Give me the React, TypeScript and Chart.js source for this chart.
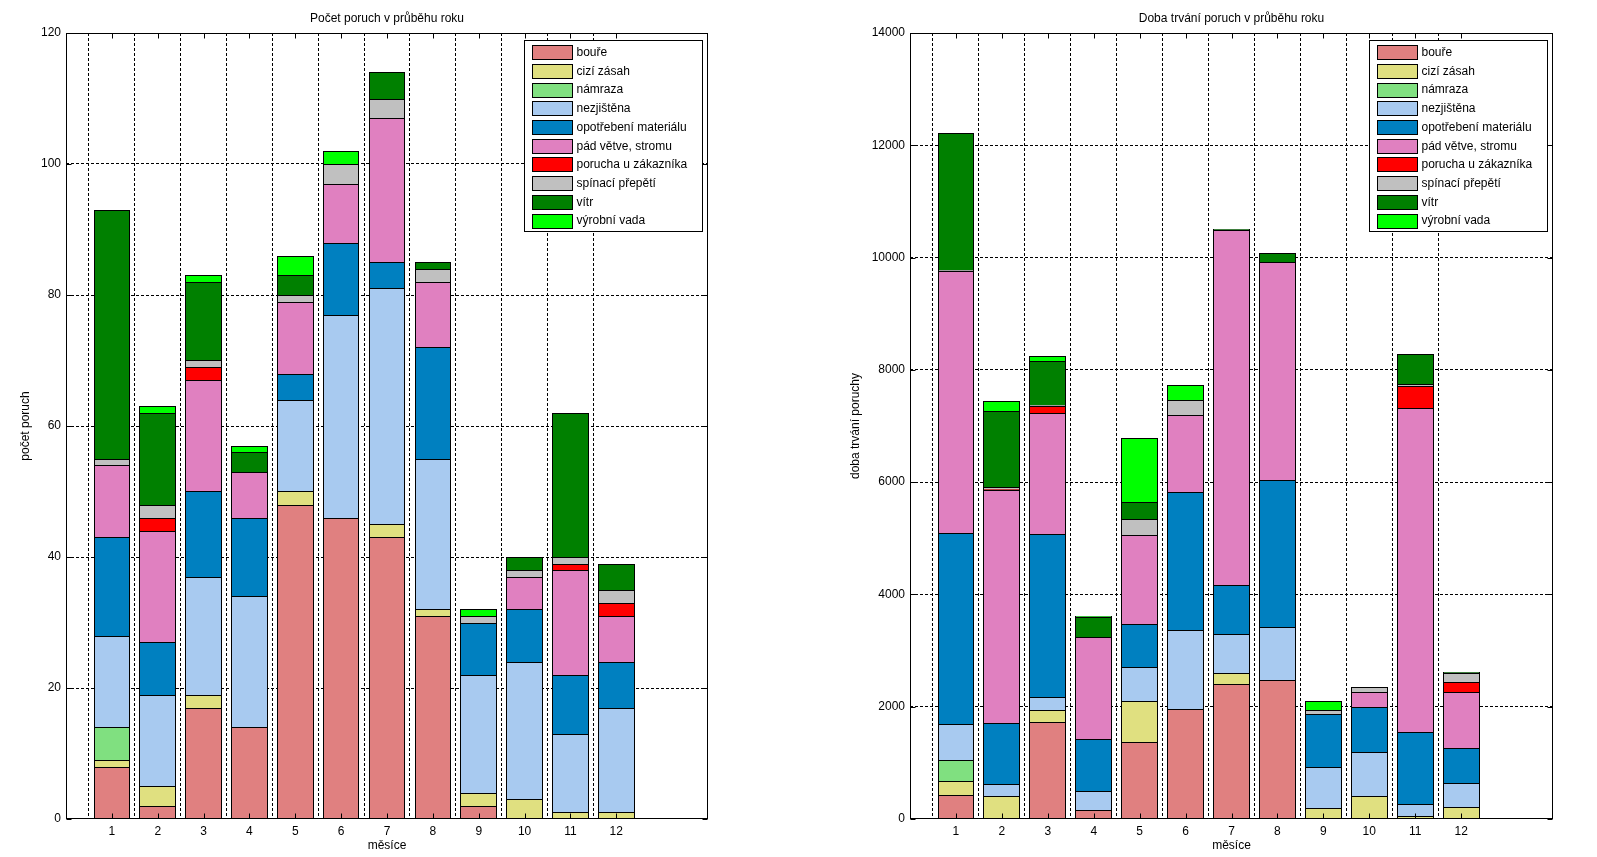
import React, { useEffect, useRef } from 'react';
import { Chart, registerables } from 'chart.js';

Chart.register(...registerables);

const FONT = "'Liberation Sans', Arial, sans-serif";

// ---------- data ----------
const MONTHS = ['1', '2', '3', '4', '5', '6', '7', '8', '9', '10', '11', '12'];
const X_LABELS = ['', ...MONTHS, '', ''];

const CAUSES = [
  'bouře',
  'cizí zásah',
  'námraza',
  'nezjištěna',
  'opotřebení materiálu',
  'pád větve, stromu',
  'porucha u zákazníka',
  'spínací přepětí',
  'vítr',
  'výrobní vada',
];
const CAUSE_COLORS = [
  '#E08080',
  '#E0E080',
  '#80E080',
  '#A8CAF0',
  '#0080C0',
  '#E080C0',
  '#FF0000',
  '#C0C0C0',
  '#008000',
  '#00FF00',
];

// Počet poruch (count per month)
const countBoure = [8, 2, 17, 14, 48, 46, 43, 31, 2, 0, 0, 0];
const countCizi = [1, 3, 2, 0, 2, 0, 2, 1, 2, 3, 1, 1];
const countNamraza = [5, 0, 0, 0, 0, 0, 0, 0, 0, 0, 0, 0];
const countNezjistena = [14, 14, 18, 20, 14, 31, 36, 23, 18, 21, 12, 16];
const countOpotrebeni = [15, 8, 13, 12, 4, 11, 4, 17, 8, 8, 9, 7];
const countPad = [11, 17, 17, 7, 11, 9, 22, 10, 0, 5, 16, 7];
const countPorucha = [0, 2, 2, 0, 0, 0, 0, 0, 0, 0, 1, 2];
const countSpinaci = [1, 2, 1, 0, 1, 3, 3, 2, 1, 1, 1, 2];
const countVitr = [38, 14, 12, 3, 3, 0, 4, 1, 0, 2, 22, 4];
const countVyrobni = [0, 1, 1, 1, 3, 2, 0, 0, 1, 0, 0, 0];

// Doba trvání poruch (duration per month)
const durBoure = [422, 20, 1736, 155, 1367, 1956, 2396, 2473, 15, 0, 0, 0];
const durCizi = [250, 384, 202, 0, 732, 0, 202, 0, 175, 404, 48, 208];
const durNamraza = [374, 0, 0, 0, 0, 0, 0, 0, 0, 0, 0, 0];
const durNezjistena = [642, 214, 232, 338, 606, 1409, 696, 945, 731, 785, 214, 428];
const durOpotrebeni = [3407, 1088, 2907, 928, 767, 2467, 873, 2622, 946, 803, 1284, 624];
const durPad = [4673, 4150, 2150, 1813, 1587, 1365, 6321, 3889, 0, 267, 5776, 999];
const durPorucha = [0, 24, 136, 0, 0, 0, 0, 0, 0, 0, 399, 178];
const durSpinaci = [10, 40, 15, 0, 286, 274, 10, 0, 71, 89, 29, 167];
const durVitr = [2446, 1348, 783, 357, 303, 0, 15, 161, 0, 0, 536, 10];
const durVyrobni = [0, 179, 89, 20, 1141, 262, 0, 0, 161, 0, 0, 0];

const COUNT_SERIES = [
  countBoure, countCizi, countNamraza, countNezjistena, countOpotrebeni,
  countPad, countPorucha, countSpinaci, countVitr, countVyrobni,
];
const DURATION_SERIES = [
  durBoure, durCizi, durNamraza, durNezjistena, durOpotrebeni,
  durPad, durPorucha, durSpinaci, durVitr, durVyrobni,
];

const COUNT_Y_TICKS = [0, 20, 40, 60, 80, 100, 120];
const DURATION_Y_TICKS = [0, 2000, 4000, 6000, 8000, 10000, 12000, 14000];

// ---------- plugins ----------
// snap bar edges to whole pixels (crisp MATLAB-like edges)
const snapPlugin = {
  id: 'snapBars',
  afterDatasetsUpdate(chart: any) {
    chart.data.datasets.forEach((_: any, di: number) => {
      const meta = chart.getDatasetMeta(di);
      meta.data.forEach((el: any) => {
        if (!isFinite(el.x) || !isFinite(el.y) || !isFinite(el.base)) return;
        const l = Math.round(el.x - el.width / 2);
        const r = Math.round(el.x + el.width / 2);
        el.x = (l + r) / 2;
        el.width = r - l;
        el.y = Math.round(el.y);
        el.base = Math.round(el.base);
      });
    });
  },
};

const framePlugin = {
  id: 'matlabFrame',
  afterDatasetsDraw(chart: any) {
    const { ctx, chartArea: a } = chart;
    const L = Math.round(a.left) + 0.5;
    const R = Math.round(a.right) - 0.5;
    const T = Math.round(a.top) + 0.5;
    const B = Math.round(a.bottom) - 0.5;
    ctx.save();
    ctx.setLineDash([]);
    ctx.strokeStyle = '#000';
    ctx.lineWidth = 1;
    ctx.strokeRect(L, T, R - L, B - T);
    const tl = 5;
    ctx.beginPath();
    const ys = chart.scales.y;
    ys.ticks.forEach((t: any) => {
      const y = Math.round(ys.getPixelForValue(t.value)) + 0.5;
      ctx.moveTo(L, y);
      ctx.lineTo(L + tl, y);
      ctx.moveTo(R, y);
      ctx.lineTo(R - tl, y);
    });
    const xs = chart.scales.x;
    for (let i = 1; i <= MONTHS.length; i++) {
      const x = Math.round(xs.getPixelForTick(i)) + 0.5;
      ctx.moveTo(x, B);
      ctx.lineTo(x, B - tl);
      ctx.moveTo(x, T);
      ctx.lineTo(x, T + tl);
    }
    ctx.stroke();
    ctx.restore();
  },
};

const boxLegendPlugin = {
  id: 'boxLegend',
  afterDraw(chart: any) {
    const { ctx, chartArea: a } = chart;
    const w = 178;
    const h = 191;
    const left = Math.round(a.right - 6 - w) + 0.5;
    const top = Math.round(a.top + 7) + 0.5;
    ctx.save();
    ctx.setLineDash([]);
    ctx.fillStyle = '#fff';
    ctx.fillRect(left, top, w, h);
    ctx.strokeStyle = '#000';
    ctx.lineWidth = 1;
    ctx.strokeRect(left, top, w, h);
    ctx.font = `12px ${FONT}`;
    ctx.textBaseline = 'middle';
    ctx.textAlign = 'left';
    chart.data.datasets.forEach((ds: any, i: number) => {
      const cy = top + 11.7 + i * 18.7;
      const sy = Math.round(cy - 7) + 0.5;
      ctx.fillStyle = ds.backgroundColor;
      ctx.fillRect(left + 8, sy, 40, 14);
      ctx.strokeStyle = '#000';
      ctx.strokeRect(left + 8, sy, 40, 14);
      ctx.fillStyle = '#000';
      ctx.fillText(ds.label, left + 52, cy + 0.5);
    });
    ctx.restore();
  },
};

// ---------- chart component ----------
type Props = {
  series: number[][];
  yTicks: number[];
  title: string;
  yTitle: string;
  width: number;
  yWidth: number;
  rightPad: number;
  yTitlePad: number;
};

function StackedChart({ series, yTicks, title, yTitle, width, yWidth, rightPad, yTitlePad }: Props) {
  const ref = useRef<HTMLCanvasElement>(null);
  useEffect(() => {
    if (!ref.current) return;
    const datasets = CAUSES.map((label, i) => ({
      label,
      data: [null, ...series[i], null, null],
      backgroundColor: CAUSE_COLORS[i],
      borderColor: '#000',
      borderWidth: 1,
      borderSkipped: 'start' as const,
      categoryPercentage: 1,
      barPercentage: 0.8,
    }));
    const tickFont = { family: FONT, size: 12 };
    const chart = new Chart(ref.current, {
      type: 'bar',
      data: { labels: X_LABELS, datasets: datasets as any },
      options: {
        animation: false,
        responsive: false,
        layout: { padding: { left: 0, top: 0, right: rightPad, bottom: 0 } },
        plugins: {
          legend: { display: false },
          tooltip: { enabled: false },
          title: {
            display: true,
            text: title,
            fullSize: false,
            color: '#000',
            font: { family: FONT, size: 12, weight: 'normal' },
            padding: { top: 11, bottom: 7.6 },
          },
        },
        scales: {
          x: {
            stacked: true,
            offset: false,
            afterFit: (s: any) => { s.height = 38; },
            grid: {
              drawTicks: false,
              color: (c: any) => (c.index >= 1 && c.index <= MONTHS.length ? '#000' : 'rgba(0,0,0,0)'),
              lineWidth: 1,
            },
            border: { display: false, dash: [3, 2] },
            ticks: {
              autoSkip: false,
              maxRotation: 0,
              padding: 5,
              color: '#000',
              font: tickFont,
            },
            title: {
              display: true,
              text: 'měsíce',
              color: '#000',
              font: { family: FONT, size: 12 },
              padding: { top: 0, bottom: 3.8 },
            },
          },
          y: {
            stacked: true,
            min: yTicks[0],
            max: yTicks[yTicks.length - 1],
            afterFit: (s: any) => { s.width = yWidth; },
            afterBuildTicks: (s: any) => { s.ticks = yTicks.map((v) => ({ value: v })); },
            grid: {
              drawTicks: false,
              color: (c: any) => (c.index > 0 && c.index < yTicks.length - 1 ? '#000' : 'rgba(0,0,0,0)'),
              lineWidth: 1,
            },
            border: { display: false, dash: [3, 2] },
            ticks: {
              padding: 5,
              color: '#000',
              font: tickFont,
              callback: (v: any) => String(v),
            },
            title: {
              display: true,
              text: yTitle,
              color: '#000',
              font: { family: FONT, size: 12 },
              padding: { top: yTitlePad, bottom: 0 },
            },
          },
        },
      },
      plugins: [snapPlugin, framePlugin, boxLegendPlugin],
    });
    return () => chart.destroy();
  }, []);
  return <canvas ref={ref} width={width} height={857} style={{ display: 'block', width, height: 857 }} />;
}

export default function App() {
  return (
    <div style={{ position: 'absolute', left: 0, top: 0, width: 1597, height: 857, background: '#fff' }}>
      <div style={{ position: 'absolute', left: 0, top: 0 }}>
        <StackedChart
          series={COUNT_SERIES}
          yTicks={COUNT_Y_TICKS}
          title="Počet poruch v průběhu roku"
          yTitle="počet poruch"
          width={790}
          yWidth={66}
          rightPad={82}
          yTitlePad={18}
        />
      </div>
      <div style={{ position: 'absolute', left: 790, top: 0 }}>
        <StackedChart
          series={DURATION_SERIES}
          yTicks={DURATION_Y_TICKS}
          title="Doba trvání poruch v průběhu roku"
          yTitle="doba trvání poruchy"
          width={807}
          yWidth={120}
          rightPad={44}
          yTitlePad={58}
        />
      </div>
    </div>
  );
}
